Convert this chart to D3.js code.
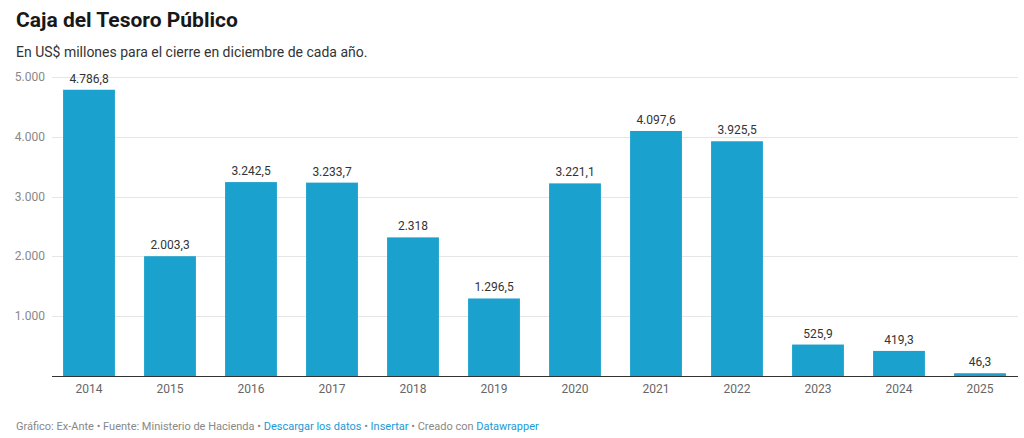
<!DOCTYPE html>
<html><head><meta charset="utf-8">
<script src="https://cdn.jsdelivr.net/npm/d3@7"></script>
<style>
body{margin:0;background:#fff;font-family:Roboto,sans-serif;}
</style></head><body>
<svg id="c" width="1024" height="438"></svg>
<script>
const years = ["2014","2015","2016","2017","2018","2019","2020","2021","2022","2023","2024","2025"];
const values = [4786.8,2003.3,3242.5,3233.7,2318,1296.5,3221.1,4097.6,3925.5,525.9,419.3,46.3];
const yTicks = [1000,2000,3000,4000,5000];

const svg = d3.select("#c");
const fmt = v => {
  const s = v.toFixed(1).replace(/\.0$/,"");
  const [i,d] = s.split(".");
  const ii = i.replace(/\B(?=(\d{3})+(?!\d))/g,".");
  return d ? ii+","+d : ii;
};
const x = d3.scaleBand().domain(years).range([48.5,1020.5]).paddingInner(0.36).paddingOuter(0.18);
const y = d3.scaleLinear().domain([0,5000]).range([376,77]);

svg.append("text").attr("x",16).attr("y",27).attr("font-size",21).attr("font-weight",700).attr("fill","#181818").text("Caja del Tesoro Público");
svg.append("text").attr("x",16).attr("y",57).attr("font-size",14).attr("fill","#333").text("En US$ millones para el cierre en diciembre de cada año.");

const g = svg.append("g");
g.selectAll("line.grid").data(yTicks).join("line").attr("class","grid")
  .attr("x1",52).attr("x2",1018).attr("y1",d=>Math.round(y(d))+0.5).attr("y2",d=>Math.round(y(d))+0.5)
  .attr("stroke","#e6e6e6");
g.selectAll("text.yt").data(yTicks).join("text").attr("class","yt")
  .attr("x",45).attr("y",d=>y(d)+4).attr("text-anchor","end").attr("font-size",12).attr("fill","#888")
  .text(d=>fmt(d));

g.selectAll("rect").data(years).join("rect")
  .attr("x",d=>x(d)).attr("width",x.bandwidth())
  .attr("y",(d,i)=>y(values[i])).attr("height",(d,i)=>y(0)-y(values[i]))
  .attr("fill","#1ba1cd");

g.append("line").attr("x1",52).attr("x2",1018).attr("y1",376.5).attr("y2",376.5).attr("stroke","#333");

g.selectAll("text.v").data(years).join("text").attr("class","v")
  .attr("x",d=>x(d)+x.bandwidth()/2).attr("y",(d,i)=>y(values[i])-7)
  .attr("text-anchor","middle").attr("font-size",12).attr("fill","#333")
  .text((d,i)=>fmt(values[i]));

g.selectAll("text.xt").data(years).join("text").attr("class","xt")
  .attr("x",d=>x(d)+x.bandwidth()/2).attr("y",393)
  .attr("text-anchor","middle").attr("font-size",12).attr("fill","#666").text(d=>d);

const f = svg.append("text").attr("x",16).attr("y",430).attr("font-size",11);
f.append("tspan").attr("fill","#888").text("Gráfico: Ex-Ante • Fuente: Ministerio de Hacienda • ");
f.append("tspan").attr("fill","#1a9ad6").text("Descargar los datos");
f.append("tspan").attr("fill","#888").text(" • ");
f.append("tspan").attr("fill","#1a9ad6").text("Insertar");
f.append("tspan").attr("fill","#888").text("  • Creado con ");
f.append("tspan").attr("fill","#1a9ad6").text("Datawrapper");
</script></body></html>
